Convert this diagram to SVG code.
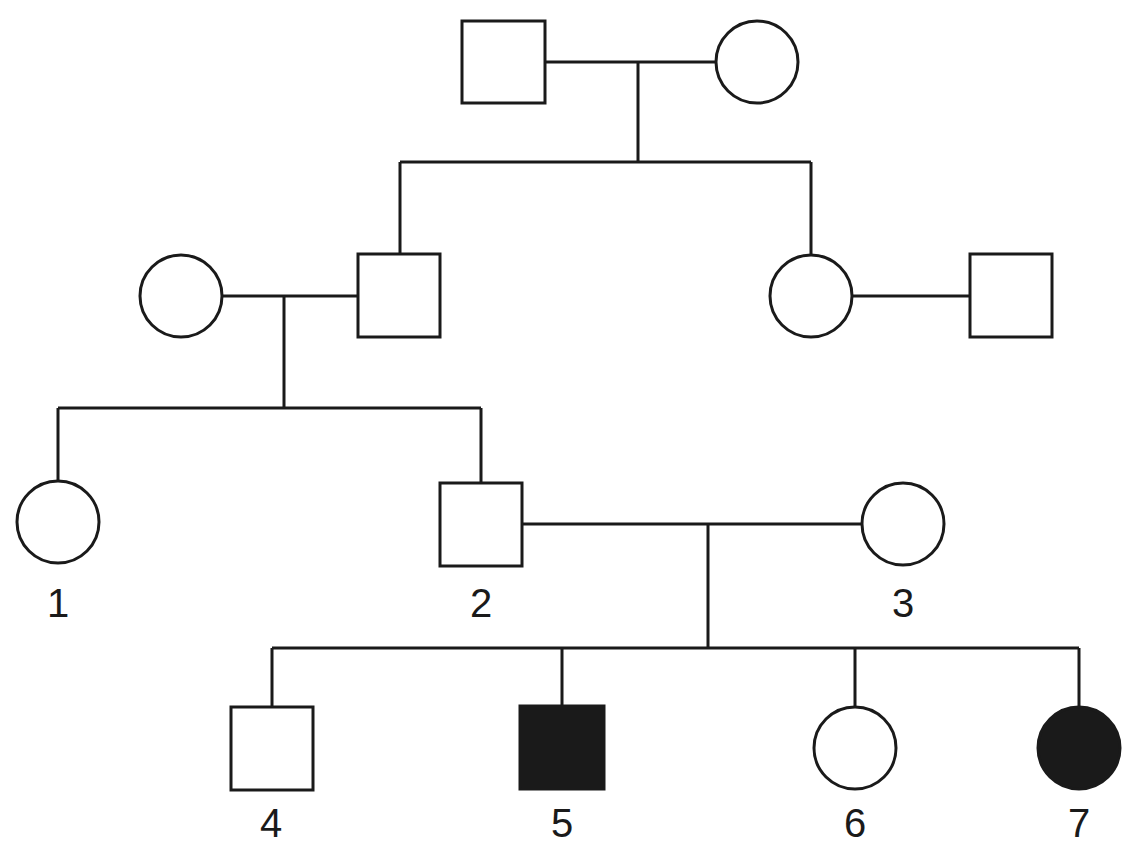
<svg xmlns="http://www.w3.org/2000/svg" width="1143" height="857" viewBox="0 0 1143 857">
<style>
.s{fill:#fff;stroke:#1a1a1a;stroke-width:3}
.f{fill:#1a1a1a;stroke:#1a1a1a;stroke-width:3}
.c{fill:none;stroke:#1a1a1a;stroke-width:3}
text{font-family:"Liberation Sans",Arial,sans-serif;font-size:40px;fill:#1a1a1a;text-anchor:middle}
</style>
<rect width="1143" height="857" fill="#fff"/>
<g id="connectors" class="c">
<path d="M545 62H716M638 62V162M400 162H811M400 162V254M811 162V254"/>
<path d="M222 296H358M284 296V408M58 408H481M58 408V481M481 408V483M852 296H970"/>
<path d="M522 524H862M708 524V648M272 648H1079M272 648V707M562 648V706M855 648V707M1079 648V707"/>
</g>
<g id="g1m"><rect class="s" x="462" y="21" width="83" height="82"/></g>
<g id="g1f"><circle class="s" cx="757" cy="62" r="41"/></g>
<g id="g2f1"><circle class="s" cx="181" cy="296" r="41"/></g>
<g id="g2m1"><rect class="s" x="358" y="254" width="82" height="83"/></g>
<g id="g2f2"><circle class="s" cx="811" cy="296" r="41"/></g>
<g id="g2m2"><rect class="s" x="970" y="254" width="82" height="83"/></g>
<g id="n1"><circle class="s" cx="58" cy="522" r="41"/><text x="58" y="617">1</text></g>
<g id="n2"><rect class="s" x="440" y="483" width="82" height="83"/><text x="481" y="617">2</text></g>
<g id="n3"><circle class="s" cx="903" cy="524" r="41"/><text x="903" y="617">3</text></g>
<g id="n4"><rect class="s" x="231" y="707" width="82" height="83"/><text x="271" y="837">4</text></g>
<g id="n5"><rect class="f" x="520" y="706" width="84" height="83"/><text x="562" y="837">5</text></g>
<g id="n6"><circle class="s" cx="855" cy="748" r="41"/><text x="855" y="837">6</text></g>
<g id="n7"><circle class="f" cx="1079" cy="748" r="41"/><text x="1079" y="837">7</text></g>
</svg>
